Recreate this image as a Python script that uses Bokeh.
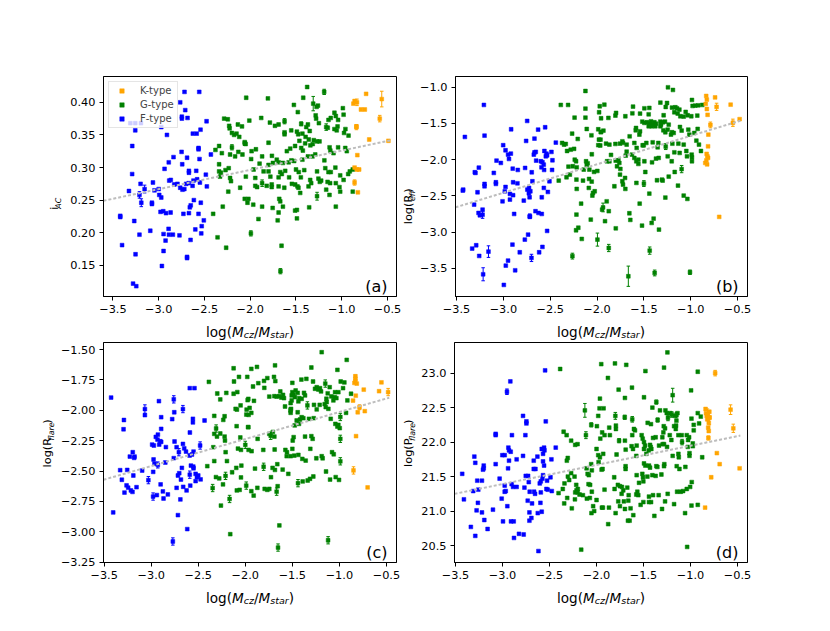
import math
from bokeh.plotting import figure
from bokeh.models import (Range1d, FixedTicker, Label, Legend, LegendItem,
                          ColumnDataSource, Whisker, TeeHead)
from bokeh.layouts import row, column
from bokeh.embed import file_html
from bokeh.resources import INLINE

# ---------------- data ----------------
X_TICKS = [-3.5, -3.0, -2.5, -2.0, -1.5, -1.0, -0.5]
X_TICK_LABELS = ["\u22123.5", "\u22123.0", "\u22122.5", "\u22122.0", "\u22121.5", "\u22121.0", "\u22120.5"]
A_Y_TICKS = [0.15, 0.20, 0.25, 0.30, 0.35, 0.40]
A_Y_TICK_LABELS = ["0.15", "0.20", "0.25", "0.30", "0.35", "0.40"]
B_Y_TICKS = [-3.5, -3.0, -2.5, -2.0, -1.5, -1.0]
B_Y_TICK_LABELS = ["\u22123.5", "\u22123.0", "\u22122.5", "\u22122.0", "\u22121.5", "\u22121.0"]
C_Y_TICKS = [-3.25, -3.0, -2.75, -2.5, -2.25, -2.0, -1.75, -1.5]
C_Y_TICK_LABELS = ["\u22123.25", "\u22123.00", "\u22122.75", "\u22122.50", "\u22122.25", "\u22122.00", "\u22121.75", "\u22121.50"]
D_Y_TICKS = [20.5, 21.0, 21.5, 22.0, 22.5, 23.0]
D_Y_TICK_LABELS = ["20.5", "21.0", "21.5", "22.0", "22.5", "23.0"]

TYPES = ["K-type", "G-type", "F-type"]
PANEL_TAGS = ["(a)", "(b)", "(c)", "(d)"]

# linear trends (slope, intercept)
TREND_A = (0.02955, 0.3555)
TREND_B = (0.3934, -1.277)
TREND_C = (0.2224, -1.792)
TREND_D = (0.278, 22.225)
TREND_X_END = -0.47

# ---- panel (a): i_AC ----
A_F = [(-2.718,0.416),(-2.557,0.416),(-2.765,0.400),(-2.710,0.388),(-2.747,0.378),(-2.747,0.375),
(-2.685,0.376),(-3.310,0.368),(-3.256,0.368),(-3.194,0.368),(-3.256,0.357),(-2.972,0.362),(-2.910,0.350),
(-2.477,0.371),(-2.627,0.352),(-2.585,0.352),(-2.543,0.358),(-3.289,0.333),(-2.565,0.330),(-2.565,0.328),
(-2.750,0.324),(-2.430,0.320),(-2.690,0.315),(-2.838,0.316),(-2.890,0.308),(-2.554,0.313),(-2.743,0.305),
(-2.936,0.298),(-2.670,0.295),(-2.670,0.292),(-2.590,0.295),(-2.485,0.289),(-3.290,0.290),(-2.580,0.282),
(-2.620,0.280),(-2.550,0.277),(-2.885,0.280),(-2.868,0.281),(-3.063,0.277),(-3.198,0.275),(-2.830,0.274),
(-2.795,0.275),(-2.765,0.269),(-2.700,0.275),(-2.672,0.276),(-2.720,0.267),(-2.740,0.266),(-2.630,0.272),
(-2.474,0.271),(-3.000,0.267),(-3.046,0.265),(-2.994,0.258),(-2.972,0.254),(-3.325,0.264),(-3.074,0.246),
(-3.074,0.244),(-2.616,0.250),(-2.650,0.242),(-2.660,0.239),(-2.540,0.246),(-3.420,0.226),(-3.420,0.224),
(-2.980,0.232),(-2.950,0.233),(-2.920,0.230),(-2.870,0.231),(-2.730,0.229),(-2.670,0.230),(-2.565,0.229),
(-2.507,0.219),(-3.267,0.218),(-2.530,0.210),(-2.892,0.206),(-3.092,0.203),(-3.210,0.197),(-2.947,0.198),
(-2.888,0.197),(-2.845,0.197),(-2.773,0.196),(-2.600,0.205),(-2.535,0.199),(-2.652,0.189),(-2.925,0.188),
(-3.400,0.181),(-2.947,0.172),(-3.253,0.167),(-2.690,0.163),(-2.690,0.161),(-2.965,0.149),(-3.280,0.122),
(-3.245,0.118)]
A_G = [(-2.044,0.407),(-2.010,0.372),(-2.285,0.375),(-2.245,0.374),(-2.230,0.364),(-2.225,0.360),
(-2.200,0.353),(-2.176,0.350),(-2.150,0.352),(-2.120,0.347),(-2.090,0.363),(-2.135,0.366),(-2.060,0.339),
(-2.050,0.336),(-2.340,0.333),(-2.380,0.327),(-2.310,0.322),(-2.220,0.320),(-2.165,0.317),(-2.130,0.324),
(-2.085,0.320),(-2.340,0.305),(-2.340,0.294),(-2.320,0.292),(-2.270,0.296),(-2.235,0.299),(-2.330,0.286),
(-2.220,0.284),(-2.210,0.279),(-2.240,0.263),(-2.110,0.269),(-2.060,0.252),(-2.030,0.246),(-2.048,0.286),
(-2.300,0.240),(-2.405,0.229),(-2.357,0.193),(-2.263,0.177),
(-1.378,0.4235),(-1.421,0.407),(-1.807,0.406),(-1.260,0.395),(-1.275,0.393),(-1.523,0.396),(-1.480,0.385),
(-1.285,0.380),(-1.280,0.375),(-1.880,0.376),(-1.785,0.369),(-1.730,0.364),(-1.690,0.366),(-1.370,0.366),
(-1.388,0.362),(-1.250,0.368),(-1.145,0.373),(-1.120,0.376),(-1.080,0.384),(-1.065,0.379),(-0.988,0.391),
(-0.980,0.381),(-1.153,0.361),(-1.040,0.373),(-1.046,0.363),(-1.625,0.354),(-1.625,0.351),(-1.552,0.357),
(-1.490,0.355),(-1.476,0.351),(-1.080,0.359),(-1.055,0.357),(-0.960,0.359),(-0.975,0.353),(-0.926,0.349),
(-1.430,0.352),(-1.395,0.347),(-1.350,0.356),(-1.360,0.343),(-1.305,0.342),(-1.270,0.340),(-1.243,0.340),
(-1.463,0.341),(-1.400,0.337),(-1.800,0.338),(-1.510,0.333),(-1.563,0.329),(-1.600,0.325),(-1.443,0.330),
(-1.425,0.326),(-1.343,0.334),(-1.317,0.336),(-1.133,0.331),(-1.125,0.326),(-1.040,0.331),(-0.962,0.330),
(-0.945,0.325),(-1.938,0.328),(-1.985,0.325),(-1.990,0.313),(-1.870,0.317),(-1.763,0.318),(-1.752,0.307),
(-1.690,0.308),(-1.710,0.312),(-1.643,0.307),(-1.580,0.308),(-1.550,0.311),(-1.520,0.310),(-1.430,0.312),
(-1.370,0.317),(-1.320,0.317),(-1.290,0.320),(-1.190,0.311),(-1.090,0.322),(-1.898,0.306),(-1.800,0.304),
(-1.963,0.297),(-1.854,0.294),(-1.800,0.294),(-1.672,0.293),(-1.618,0.295),(-1.500,0.297),(-1.470,0.293),
(-1.410,0.296),(-1.270,0.294),(-1.180,0.299),(-1.145,0.293),(-1.120,0.293),(-1.070,0.300),(-1.017,0.288),
(-0.930,0.290),(-0.912,0.294),(-0.880,0.297),(-1.945,0.284),(-1.780,0.286),(-1.690,0.285),(-1.655,0.290),
(-1.575,0.285),(-1.447,0.285),(-1.345,0.281),(-1.334,0.276),(-1.255,0.283),(-1.240,0.278),(-1.225,0.280),
(-1.155,0.278),(-1.127,0.276),(-1.065,0.276),(-0.980,0.281),(-1.945,0.272),(-1.925,0.270),(-1.820,0.272),
(-1.765,0.274),(-1.765,0.270),(-1.690,0.271),(-1.628,0.269),(-1.545,0.275),(-1.509,0.274),(-1.484,0.271),
(-1.473,0.269),(-1.454,0.261),(-1.363,0.271),(-1.170,0.266),(-1.025,0.270),(-1.017,0.263),(-1.134,0.258),
(-0.880,0.263),(-2.020,0.252),(-1.967,0.243),(-1.870,0.240),(-1.755,0.238),(-1.683,0.252),(-1.672,0.248),
(-1.643,0.240),(-1.690,0.231),(-1.356,0.239),(-1.065,0.240),(-1.510,0.234),(-1.490,0.235),(-1.490,0.222),
(-1.700,0.219),(-1.910,0.221),(-1.658,0.180)]
A_K = [(-0.734,0.413),(-0.790,0.389),(-0.748,0.389),(-0.840,0.363),(-0.700,0.343),(-0.490,0.341),
(-0.830,0.319),(-0.860,0.300),(-0.835,0.297),(-0.810,0.297),(-0.824,0.262),(-0.873,0.398),(-0.860,0.402)]
# error-bar points (x, y, err)
A_F_ERR = [(-3.154,0.267,0.006),(-3.210,0.258,0.005),(-3.190,0.246,0.006)]
A_G_ERR = [(-1.312,0.398,0.011),(-1.192,0.416,0.004),(-1.625,0.371,0.004),(-1.170,0.362,0.005),
(-1.870,0.276,0.005),(-1.270,0.256,0.006),(-1.993,0.199,0.004),(-1.670,0.141,0.004),(-2.200,0.331,0.004),
(-2.060,0.337,0.003),(-1.443,0.367,0.003)]
A_K_ERR = [(-0.834,0.400,0.005),(-0.563,0.405,0.012),(-0.585,0.375,0.005),(-0.860,0.277,0.004),(-0.840,0.362,0.004)]

# ---- panel (b): log(R_eff) ----
B_F = [(-3.208,-1.244),(-3.411,-1.686),(-3.201,-1.668),(-2.917,-1.580),(-2.746,-1.465),(-2.554,-1.552),
(-2.629,-1.585),(-2.668,-1.709),(-2.757,-1.741),(-3.002,-1.800),(-2.977,-1.870),(-2.950,-1.930),(-2.940,-1.990),
(-2.920,-1.916),(-3.073,-2.013),(-3.027,-2.045),(-2.668,-1.900),(-2.654,-1.892),(-2.675,-1.930),(-2.562,-1.880),
(-2.540,-1.917),(-2.547,-1.953),(-2.533,-1.940),(-2.487,-1.893),(-2.650,-2.013),(-2.600,-2.022),(-2.583,-2.035),
(-2.569,-2.068),(-2.593,-2.105),(-2.565,-2.142),(-2.480,-2.142),(-2.476,-2.008),(-2.440,-1.764),(-2.900,-2.124),
(-2.846,-2.142),(-2.768,-2.114),(-2.697,-2.174),(-3.102,-2.183),(-3.262,-2.110),(-3.305,-2.174),(-3.298,-2.183),
(-3.080,-2.312),(-3.080,-2.335),(-3.201,-2.335),(-3.201,-2.367),(-2.896,-2.312),(-2.850,-2.326),(-2.977,-2.377),
(-2.690,-2.298),(-2.508,-2.298),(-2.568,-2.390),(-2.525,-2.446),(-2.744,-2.413),(-2.726,-2.390),(-2.712,-2.436),
(-2.728,-2.464),(-2.720,-2.519),(-2.782,-2.565),(-2.590,-2.519),(-2.985,-2.437),(-2.930,-2.473),(-2.896,-2.491),
(-2.930,-2.551),(-3.009,-2.575),(-3.429,-2.413),(-3.433,-2.427),(-3.276,-2.450),(-3.312,-2.621),(-3.265,-2.736),
(-3.251,-2.768),(-3.222,-2.690),(-2.885,-2.750),(-2.718,-2.790),(-2.657,-2.712),(-2.625,-2.736),(-2.590,-2.750),
(-2.533,-2.984),(-2.736,-3.035),(-2.771,-3.104),(-2.903,-3.173),(-2.825,-3.279),(-2.583,-3.205),(-2.618,-3.279),
(-3.333,-3.228),(-3.290,-3.182),(-3.258,-3.330),(-2.950,-3.394),(-2.974,-3.463),(-2.874,-3.528),(-2.995,-3.730)]
B_G = [(-2.124,-1.051),(-2.387,-1.244),(-2.309,-1.244),(-2.240,-1.419),(-2.124,-1.295),(-2.124,-1.419),
(-1.971,-1.262),(-1.978,-1.345),(-2.266,-1.640),(-2.206,-1.714),(-2.110,-1.576),(-2.060,-1.663),(-1.987,-1.580),
(-1.960,-1.620),(-1.980,-1.723),(-1.963,-1.723),(-1.987,-1.800),(-1.966,-1.804),(-2.373,-1.769),(-2.352,-1.792),
(-2.334,-1.783),(-2.320,-1.880),(-2.281,-1.862),(-2.245,-1.850),(-2.238,-2.000),(-2.224,-2.022),(-2.117,-2.022),
(-2.100,-2.050),(-2.110,-2.073),(-2.056,-1.925),(-2.305,-2.096),(-2.259,-2.091),(-2.217,-2.105),(-2.142,-2.137),
(-2.082,-2.137),(-2.032,-2.169),(-1.997,-2.156),(-2.290,-2.206),(-2.326,-2.243),(-2.409,-2.289),(-2.220,-2.275),
(-2.150,-2.289),(-2.085,-2.266),(-2.057,-2.303),(-2.088,-2.390),(-2.217,-2.404),(-2.043,-2.459),(-2.025,-2.436),
(-2.050,-2.496),(-2.170,-2.607),(-1.946,-2.690),(-2.220,-2.758),(-2.067,-2.828),(-2.200,-2.940),(-2.224,-2.975),
(-2.163,-3.095),
(-1.243,-1.000),(-1.190,-1.037),(-1.922,-1.240),(-1.616,-1.267),(-1.495,-1.290),(-1.442,-1.285),(-1.324,-1.212),
(-1.253,-1.217),(-1.267,-1.272),(-1.200,-1.280),(-1.164,-1.276),(-1.146,-1.290),(-1.121,-1.308),(-1.175,-1.345),
(-1.139,-1.363),(-1.111,-1.400),(-1.054,-1.340),(-1.033,-1.386),(-1.075,-1.405),(-0.987,-1.175),(-0.980,-1.258),
(-0.952,-1.253),(-0.920,-1.249),(-0.877,-1.244),(-0.994,-1.400),(-0.930,-1.391),(-1.957,-1.428),(-1.879,-1.423),
(-1.804,-1.391),(-1.797,-1.354),(-1.698,-1.400),(-1.623,-1.359),(-1.541,-1.363),(-1.449,-1.373),(-1.289,-1.386),
(-1.517,-1.474),(-1.495,-1.492),(-1.467,-1.483),(-1.442,-1.502),(-1.424,-1.470),(-1.406,-1.520),(-1.388,-1.483),
(-1.371,-1.502),(-1.449,-1.538),(-1.417,-1.538),(-1.378,-1.538),(-1.324,-1.474),(-1.317,-1.515),(-1.296,-1.483),
(-1.275,-1.474),(-1.324,-1.538),(-1.292,-1.594),(-1.271,-1.621),(-1.246,-1.585),(-1.235,-1.516),(-1.200,-1.621),
(-1.211,-1.654),(-1.182,-1.631),(-1.584,-1.562),(-1.587,-1.594),(-1.541,-1.608),(-1.548,-1.654),(-1.115,-1.548),
(-1.097,-1.598),(-1.026,-1.585),(-1.015,-1.654),(-0.962,-1.631),(-0.926,-1.575),(-1.957,-1.617),(-1.932,-1.599),
(-1.904,-1.778),(-1.868,-1.792),(-1.804,-1.783),(-1.755,-1.778),(-1.730,-1.746),(-1.723,-1.769),(-1.684,-1.792),
(-1.652,-1.677),(-1.602,-1.769),(-1.577,-1.838),(-1.513,-1.801),(-1.502,-1.801),(-1.474,-1.769),(-1.406,-1.760),
(-1.353,-1.829),(-1.346,-1.769),(-1.196,-1.779),(-1.175,-1.898),(-1.132,-1.779),(-1.075,-1.792),(-1.047,-1.880),
(-0.990,-1.930),(-0.987,-1.967),(-0.987,-2.022),(-0.940,-1.737),(-0.912,-1.792),(-0.891,-1.880),(-1.893,-2.022),
(-1.868,-2.022),(-1.801,-2.013),(-1.772,-2.008),(-1.762,-2.045),(-1.787,-2.091),(-1.751,-2.128),(-1.851,-1.934),
(-1.694,-1.944),(-1.684,-1.889),(-1.627,-1.930),(-1.602,-1.976),(-1.581,-2.022),(-1.559,-1.999),(-1.559,-2.059),
(-1.495,-2.022),(-1.485,-2.170),(-1.413,-2.036),(-1.371,-1.985),(-1.342,-1.976),(-1.246,-1.953),(-1.203,-2.022),
(-1.171,-2.170),(-1.118,-1.907),(-1.040,-1.953),(-1.755,-2.206),(-1.701,-2.252),(-1.698,-2.404),(-1.730,-2.298),
(-1.723,-2.344),(-1.815,-2.367),(-1.580,-2.321),(-1.442,-2.469),(-1.360,-2.284),(-1.307,-2.275),(-1.300,-2.289),
(-1.235,-2.234),(-1.136,-2.358),(-1.271,-2.523),(-1.545,-2.607),(-1.075,-2.496),(-1.036,-2.542),(-1.897,-2.575),
(-1.875,-2.712),(-1.915,-2.850),(-1.655,-2.740),(-1.645,-2.832),(-1.800,-2.948),(-1.520,-2.911),(-1.417,-2.874),
(-1.396,-2.814),(-1.339,-2.966)]
B_K = [(-0.835,-1.120),(-0.828,-1.170),(-0.740,-1.140),(-0.574,-1.240),(-0.840,-1.230),(-0.828,-1.300),
(-0.820,-1.380),(-0.812,-1.654),(-0.478,-1.440),(-0.815,-1.815),(-0.830,-1.920),(-0.822,-1.955),(-0.815,-1.975),
(-0.833,-2.010),(-0.845,-2.045),(-0.825,-2.065),(-0.696,-2.790)]
B_F_ERR = [(-3.222,-2.760,0.05),(-3.159,-3.270,0.08),(-2.700,-3.357,0.05),(-3.216,-3.583,0.09),(-2.718,-2.780,0.03)]
B_G_ERR = [(-1.996,-3.104,0.09),(-2.263,-3.332,0.04),(-1.666,-3.610,0.14),(-1.438,-3.256,0.05),
(-1.875,-3.220,0.05),(-1.936,-2.660,0.06),(-1.097,-2.130,0.05),(-1.500,-2.330,0.04),(-1.267,-1.820,0.04),
(-1.385,-3.565,0.04),(-1.008,-3.555,0.03)]
B_K_ERR = [(-0.724,-1.270,0.05),(-0.790,-1.520,0.04),(-0.550,-1.490,0.05)]

# ---- panel (c): log(R_flare) ----
C_F = [(-3.426,-1.895),(-3.067,-2.040),(-2.918,-1.925),(-2.755,-2.016),(-2.590,-1.818),(-2.540,-1.818),
(-2.894,-2.057),(-2.777,-2.073),(-2.557,-2.070),(-2.557,-2.100),(-2.433,-2.084),(-3.290,-2.080),(-3.294,-2.156),
(-2.894,-2.153),(-2.589,-2.183),(-2.929,-2.200),(-2.951,-2.219),(-2.933,-2.241),(-2.904,-2.255),(-2.915,-2.282),
(-2.894,-2.260),(-2.990,-2.282),(-2.972,-2.290),(-2.844,-2.303),(-2.752,-2.257),(-2.730,-2.304),(-2.663,-2.277),
(-2.649,-2.313),(-2.630,-2.340),(-2.592,-2.372),(-2.567,-2.364),(-2.550,-2.340),(-3.196,-2.345),(-3.227,-2.381),
(-3.177,-2.381),(-3.181,-2.392),(-2.760,-2.394),(-2.975,-2.405),(-2.965,-2.440),(-2.850,-2.430),(-3.096,-2.496),
(-2.979,-2.507),(-3.330,-2.493),(-3.255,-2.491),(-3.190,-2.537),(-3.312,-2.572),(-3.262,-2.618),(-3.245,-2.637),
(-3.284,-2.677),(-3.216,-2.660),(-3.199,-2.672),(-3.156,-2.633),(-2.900,-2.610),(-2.940,-2.698),(-2.876,-2.668),
(-2.869,-2.726),(-2.823,-2.693),(-2.674,-2.474),(-2.702,-2.518),(-2.716,-2.537),(-2.730,-2.638),(-2.684,-2.570),
(-2.660,-2.630),(-2.624,-2.660),(-2.585,-2.620),(-2.578,-2.455),(-2.553,-2.463),(-2.550,-2.477),(-2.528,-2.523),
(-2.514,-2.551),(-2.500,-2.537),(-2.528,-2.583),(-2.475,-2.569),(-2.690,-2.734),(-2.716,-2.863),(-2.617,-2.978),
(-3.404,-2.841)]
C_G = [(-2.124,-1.654),(-2.067,-1.725),(-1.979,-1.725),(-2.387,-1.766),(-2.120,-1.763),(-2.298,-1.862),
(-2.202,-1.857),(-2.266,-1.911),(-2.124,-1.864),(-2.085,-1.850),(-1.975,-1.917),(-2.050,-1.960),(-2.103,-1.988),
(-2.089,-1.994),(-1.986,-1.994),(-1.954,-1.980),(-1.989,-2.035),(-1.965,-2.038),(-2.330,-2.046),(-2.234,-2.079),
(-2.220,-2.049),(-2.092,-2.131),(-1.970,-2.139),(-2.330,-2.194),(-2.301,-2.216),(-2.266,-2.191),(-2.220,-2.216),
(-2.216,-2.249),(-2.053,-2.224),(-2.340,-2.304),(-2.078,-2.315),(-2.046,-2.326),(-1.965,-2.326),(-2.209,-2.345),
(-2.330,-2.418),(-2.195,-2.418),(-2.404,-2.460),(-2.096,-2.474),(-2.042,-2.455),(-2.140,-2.510),(-2.312,-2.550),
(-2.277,-2.561),(-2.046,-2.553),(-2.237,-2.610),(-2.090,-2.660),(-2.060,-2.655),(-2.259,-2.784),(-2.160,-3.020),
(-1.188,-1.522),(-0.922,-1.585),(-1.298,-1.648),(-1.021,-1.667),(-1.684,-1.630),(-1.876,-1.643),(-1.936,-1.659),
(-1.766,-1.735),(-1.695,-1.725),(-1.801,-1.758),(-1.862,-1.777),(-1.918,-1.804),(-1.798,-1.815),(-1.681,-1.760),
(-1.404,-1.747),(-1.351,-1.741),(-1.500,-1.774),(-1.280,-1.763),(-1.241,-1.810),(-1.259,-1.823),(-1.223,-1.829),
(-1.206,-1.818),(-1.195,-1.845),(-1.103,-1.810),(-1.124,-1.860),(-0.986,-1.763),(-0.947,-1.771),(-0.961,-1.818),
(-1.628,-1.845),(-1.642,-1.884),(-1.617,-1.895),(-1.589,-1.900),(-1.599,-1.873),(-1.500,-1.851),(-1.507,-1.878),
(-1.486,-1.873),(-1.465,-1.837),(-1.443,-1.856),(-1.472,-1.892),(-1.426,-1.900),(-1.436,-1.927),(-1.401,-1.906),
(-1.365,-1.878),(-1.376,-1.856),(-1.507,-1.919),(-1.518,-1.941),(-1.270,-1.955),(-1.241,-1.993),(-1.209,-1.955),
(-1.156,-1.949),(-1.145,-1.974),(-1.135,-1.933),(-1.117,-1.988),(-1.138,-1.905),(-1.064,-1.919),(-1.050,-1.892),
(-1.032,-1.900),(-1.085,-1.886),(-1.011,-1.851),(-1.046,-1.851),(-0.915,-1.919),(-0.876,-1.864),(-1.745,-1.887),
(-1.691,-1.884),(-1.667,-1.887),(-1.908,-1.922),(-1.968,-1.906),(-1.936,-2.021),(-1.578,-1.969),(-1.518,-2.021),
(-1.514,-1.988),(-1.443,-2.016),(-1.454,-2.084),(-1.419,-2.076),(-1.383,-2.065),(-1.401,-2.057),(-1.429,-2.112),
(-1.475,-2.125),(-1.323,-2.070),(-1.273,-2.065),(-1.092,-2.070),(-1.043,-2.112),(-1.011,-2.120),(-1.021,-2.134),
(-0.996,-2.147),(-0.929,-2.021),(-1.968,-2.139),(-1.869,-2.235),(-1.745,-2.194),(-1.707,-2.178),(-1.691,-2.216),
(-1.486,-2.221),(-1.496,-2.249),(-1.365,-2.216),(-1.298,-2.213),(-1.284,-2.235),(-1.933,-2.337),(-1.809,-2.326),
(-1.688,-2.323),(-1.574,-2.326),(-1.557,-2.345),(-1.500,-2.317),(-1.309,-2.317),(-1.560,-2.378),(-1.518,-2.378),
(-1.479,-2.373),(-1.436,-2.367),(-1.394,-2.400),(-1.358,-2.414),(-1.245,-2.395),(-1.188,-2.378),(-1.178,-2.395),
(-1.078,-2.345),(-1.060,-2.362),(-1.897,-2.480),(-1.710,-2.474),(-1.685,-2.491),(-1.660,-2.444),(-1.603,-2.488),
(-1.543,-2.523),(-1.142,-2.504),(-1.727,-2.551),(-1.312,-2.564),(-1.277,-2.545),(-1.337,-2.578),(-1.099,-2.570),
(-1.039,-2.550),(-1.004,-2.573),(-1.390,-2.586),(-1.872,-2.638),(-1.936,-2.666),(-1.911,-2.702),(-1.794,-2.647),
(-1.766,-2.655),(-1.745,-2.647),(-1.656,-2.625),(-1.638,-2.948)]
C_K = [(-0.830,-1.720),(-0.830,-1.760),(-0.840,-1.775),(-0.815,-1.780),(-0.553,-1.770),(-0.741,-1.830),
(-0.578,-1.843),(-0.826,-1.880),(-0.855,-1.920),(-0.805,-2.016),(-0.730,-2.007),(-0.823,-2.213),(-0.700,-2.635)]
C_F_ERR = [(-3.067,-1.990,0.035),(-2.760,-1.910,0.03),(-2.663,-1.990,0.03),(-2.706,-2.345,0.03),
(-2.480,-2.290,0.03),(-2.930,-2.450,0.025),(-3.030,-2.575,0.03),(-2.980,-2.710,0.03),(-2.590,-2.530,0.03),
(-2.770,-3.080,0.03)]
C_G_ERR = [(-2.310,-2.150,0.03),(-2.000,-2.285,0.03),(-2.210,-2.540,0.03),(-2.347,-2.640,0.03),
(-2.167,-2.730,0.03),(-1.990,-2.620,0.03),(-1.150,-1.780,0.03),(-1.340,-1.960,0.03),(-0.990,-2.055,0.03),
(-1.730,-2.210,0.03),(-0.990,-2.235,0.03),(-0.990,-2.420,0.03),(-1.805,-2.465,0.03),(-1.440,-2.600,0.03),
(-1.667,-2.670,0.03),(-1.652,-3.130,0.03),(-1.120,-3.070,0.03),(-1.520,-2.000,0.02)]
C_K_ERR = [(-0.850,-2.495,0.03),(-0.830,-1.740,0.03),(-0.482,-1.850,0.03),(-0.786,-1.975,0.02)]

# ---- panel (d): log(P_flare) ----
D_F = [(-2.547,23.04),(-2.917,22.88),(-2.782,22.38),(-2.746,22.30),(-2.746,22.27),(-2.540,22.30),
(-3.073,22.12),(-3.073,22.10),(-2.900,22.10),(-2.757,22.10),(-3.300,21.79),(-3.290,21.70),(-3.200,21.66),
(-3.200,21.62),(-3.208,21.60),(-3.073,21.68),(-3.002,21.81),(-2.977,21.81),(-2.938,21.92),(-2.931,21.88),
(-2.913,21.86),(-2.931,21.73),(-2.941,21.62),(-2.850,21.75),(-2.782,21.80),(-2.668,21.73),(-2.629,21.79),
(-2.583,21.90),(-2.558,21.92),(-2.554,21.88),(-2.569,21.83),(-2.569,21.72),(-2.558,21.66),(-2.434,21.92),
(-2.480,21.75),(-2.668,21.61),(-2.650,21.61),(-3.429,21.54),(-3.031,21.47),(-2.753,21.51),(-2.728,21.51),
(-2.569,21.52),(-2.490,21.49),(-3.269,21.44),(-3.219,21.44),(-2.977,21.37),(-2.903,21.39),(-2.888,21.35),
(-2.850,21.35),(-2.767,21.34),(-2.721,21.42),(-2.604,21.40),(-2.576,21.47),(-2.593,21.43),(-2.526,21.44),
(-2.533,21.32),(-2.519,21.31),(-2.476,21.29),(-3.258,21.31),(-3.312,21.29),(-2.977,21.28),(-2.966,21.29),
(-2.711,21.28),(-2.664,21.28),(-2.654,21.25),(-2.593,21.27),(-3.411,21.17),(-3.009,21.18),(-3.262,21.12),
(-2.949,21.07),(-2.732,21.15),(-2.686,21.11),(-2.597,21.12),(-3.276,21.01),(-3.219,20.98),(-3.102,21.02),
(-2.714,20.98),(-2.625,20.97),(-2.583,20.99),(-3.194,20.87),(-2.995,20.85),(-2.910,20.85),(-2.881,20.85),
(-2.714,20.86),(-2.693,20.90),(-3.337,20.77),(-3.159,20.74),(-3.290,20.64),(-2.825,20.67),(-2.775,20.66),
(-2.878,20.61),(-2.618,20.42)]
D_G = [(-2.387,23.06),(-1.950,23.13),(-1.964,22.63),(-1.968,22.49),(-1.982,22.38),(-1.996,22.23),
(-1.960,22.05),(-2.350,22.15),(-2.318,22.10),(-2.270,22.02),(-2.227,21.96),(-2.202,21.97),(-2.000,21.90),
(-1.982,21.81),(-1.964,21.78),(-2.306,21.77),(-2.316,21.73),(-1.946,21.60),(-1.978,21.71),(-2.057,21.68),
(-2.106,21.62),(-2.095,21.54),(-2.082,21.52),(-2.050,21.59),(-2.305,21.50),(-2.291,21.45),(-2.270,21.55),
(-2.234,21.50),(-2.341,21.40),(-2.359,21.32),(-2.216,21.38),(-2.199,21.32),(-2.213,21.30),(-2.202,21.27),
(-2.227,21.27),(-2.181,21.24),(-2.085,21.39),(-2.068,21.38),(-2.145,21.23),(-2.103,21.18),(-2.071,21.19),
(-2.050,21.28),(-2.312,21.19),(-2.404,21.26),(-2.230,21.17),(-2.344,21.11),(-2.263,21.04),(-2.000,21.16),
(-2.036,21.07),(-2.025,21.00),(-2.054,20.97),(-1.943,21.05),(-2.163,20.44),
(-1.246,23.30),(-1.804,23.14),(-1.684,23.12),(-1.480,23.03),(-1.282,23.08),(-0.923,23.02),(-1.879,22.93),
(-1.765,22.76),(-1.623,22.79),(-1.698,22.64),(-1.495,22.65),(-0.994,22.75),(-1.925,22.49),(-1.406,22.50),
(-1.325,22.46),(-1.267,22.46),(-1.253,22.42),(-1.218,22.42),(-1.168,22.38),(-1.139,22.42),(-1.150,22.31),
(-1.154,22.24),(-0.990,22.34),(-0.891,22.37),(-0.923,22.42),(-0.909,22.27),(-1.456,22.28),(-1.421,22.26),
(-1.794,22.24),(-1.794,22.19),(-1.865,22.21),(-1.602,22.19),(-1.591,22.17),(-1.285,22.23),(-1.271,22.20),
(-1.175,22.23),(-1.157,22.19),(-0.966,22.25),(-0.966,22.17),(-1.940,22.14),(-1.915,22.10),(-1.858,22.10),
(-1.620,22.10),(-1.520,22.10),(-1.509,22.05),(-1.399,22.06),(-1.371,22.07),(-1.300,22.07),(-1.289,22.14),
(-1.221,22.10),(-1.204,22.03),(-1.129,22.10),(-1.094,22.10),(-1.040,22.10),(-1.015,22.07),(-1.026,22.03),
(-0.976,21.98),(-0.976,21.94),(-1.698,22.02),(-1.690,21.89),(-1.627,21.94),(-1.612,21.90),(-1.573,21.95),
(-1.495,22.00),(-1.484,21.95),(-1.495,21.90),(-1.470,21.83),(-1.431,21.96),(-1.424,21.93),(-1.445,21.88),
(-1.417,21.90),(-1.335,21.95),(-1.296,21.97),(-1.282,21.97),(-1.250,21.93),(-1.190,21.80),(-1.129,21.83),
(-1.125,21.78),(-1.011,21.84),(-1.011,21.80),(-1.029,21.93),(-0.876,21.78),(-1.929,21.83),(-1.787,21.82),
(-1.577,21.80),(-1.936,21.61),(-1.691,21.65),(-1.691,21.61),(-1.495,21.69),(-1.481,21.66),(-1.442,21.66),
(-1.431,21.63),(-1.364,21.65),(-1.353,21.64),(-1.279,21.68),(-1.282,21.65),(-1.147,21.65),(-1.118,21.61),
(-1.055,21.64),(-1.573,21.52),(-1.513,21.54),(-1.506,21.49),(-1.459,21.50),(-1.406,21.52),(-1.371,21.51),
(-1.310,21.53),(-1.812,21.49),(-1.773,21.38),(-1.751,21.36),(-1.716,21.30),(-1.730,21.35),(-1.673,21.34),
(-1.733,21.25),(-1.808,21.32),(-1.915,21.31),(-1.548,21.41),(-1.502,21.43),(-1.566,21.28),(-1.577,21.24),
(-1.556,21.23),(-1.658,21.23),(-1.442,21.21),(-1.399,21.23),(-1.339,21.23),(-1.243,21.25),(-1.143,21.28),
(-1.104,21.28),(-1.079,21.29),(-1.040,21.32),(-1.004,21.35),(-0.987,21.42),(-1.662,21.15),(-1.769,21.14),
(-1.709,21.14),(-1.502,21.13),(-1.531,21.09),(-1.442,21.13),(-1.420,21.13),(-1.271,21.14),(-1.175,21.10),
(-1.932,21.05),(-1.868,21.05),(-1.751,21.07),(-1.698,21.03),(-1.638,21.04),(-1.303,21.03),(-0.990,21.08),
(-0.923,21.09),(-1.797,20.97),(-1.609,20.94),(-1.385,20.93),(-1.666,20.86),(-1.648,20.86),(-1.058,20.97),
(-1.876,20.81),(-1.036,20.48)]
D_K = [(-0.840,22.48),(-0.835,22.42),(-0.828,22.38),(-0.822,22.33),(-0.812,22.36),(-0.800,22.44),
(-0.798,22.36),(-0.806,22.28),(-0.812,22.21),(-0.806,22.16),(-0.720,21.84),(-0.690,21.68),(-0.478,21.62),
(-0.780,21.49),(-0.845,21.05)]
D_F_ERR = [(-2.953,22.73,0.04)]
D_G_ERR = [(-2.124,22.46,0.10),(-2.056,22.25,0.03),(-2.113,22.10,0.05),(-1.190,22.68,0.10),
(-1.800,22.38,0.05),(-1.620,22.33,0.04),(-1.700,22.36,0.03),(-1.364,22.58,0.03),(-1.150,22.39,0.04),
(-1.240,22.35,0.04),(-1.090,22.00,0.04),(-1.760,22.02,0.03),(-1.350,22.32,0.03),(-1.200,22.40,0.04)]
D_K_ERR = [(-0.738,23.00,0.04),(-0.574,22.47,0.07),(-0.545,22.20,0.06),(-0.820,22.40,0.08),
(-0.800,22.35,0.10),(-0.810,22.06,0.03)]

# ---------------- style ----------------
COLORS = {"K-type": "#ffa500", "G-type": "#008000", "F-type": "#0000ff"}
FONT = "DejaVu Sans"
TICK_PX = 11.3
YLAB_PX = 11.3
XLAB_PX = 13.6
FRAME_W, FRAME_H = 293, 220
MID_K = 0.346   # distance (em) from text-box middle to the alphabetic baseline

# DejaVu Sans advance widths (em), used to lay out sub-scripted labels
WID = {'l': .278, 'o': .612, 'g': .635, '(': .390, ')': .390, 'R': .695, 'P': .603, 'M': .863,
       'c': .550, 'z': .525, '/': .337, 's': .521, 't': .392, 'a': .613, 'r': .411, 'i': .278,
       'A': .684, 'C': .698, 'e': .615, 'f': .352}

XLAB_PIECES = [("log(", False, False), ("M", True, False), ("cz", True, True),
               ("/", False, False), ("M", True, False), ("star", True, True), (")", False, False)]
A_YLAB = [("i", False, False), ("AC", True, True)]
B_YLAB = [("log(R", False, False), ("eff", True, True), (")", False, False)]
C_YLAB = [("log(R", False, False), ("flare", True, True), (")", False, False)]
D_YLAB = [("log(P", False, False), ("flare", True, True), (")", False, False)]


def text_w(s, px):
    return sum(WID.get(ch, 0.6) for ch in s) * px


def helper(w, h):
    p = figure(width=w, height=h, x_range=Range1d(0, w), y_range=Range1d(0, h),
               output_backend="svg", toolbar_location=None, tools="",
               x_axis_location=None, y_axis_location=None, min_border=0)
    p.outline_line_color = None
    p.grid.visible = False
    p.background_fill_color = "white"
    p.border_fill_color = "white"
    return p


def math_label(p, pieces, cx, cy, rotated, px):
    """Lay out text pieces (with subscripts); cx/cy = centre along text and baseline."""
    total = sum(text_w(t, px * (0.7 if sub else 1.0)) for t, it, sub in pieces)
    cum = 0.0
    for t, it, sub in pieces:
        size = px * (0.7 if sub else 1.0)
        w = text_w(t, size)
        drop = 0.22 * px if sub else 0.0
        mid = cum + w / 2 - total / 2
        if rotated:
            # box centre of each piece; 'up' of the rotated text points to -x
            x, y = cx + drop - MID_K * size, cy + mid
            align, base, ang = "center", "middle", math.pi / 2
        else:
            x, y = cx + mid, cy - drop
            align, base, ang = "center", "alphabetic", 0.0
        p.add_layout(Label(x=x, y=y, x_units="data", y_units="data", text=t,
                           text_font=FONT, text_font_size=f"{size:.2f}px",
                           text_font_style="italic" if it else "normal",
                           text_color="black", text_align=align,
                           text_baseline=base, angle=ang))
        cum += w


def make_panel(xr, yr, yticks, ylabels, borders, trend, series, errs, tag):
    left, right, top, bottom = borders
    p = figure(width=left + FRAME_W + right, height=top + FRAME_H + bottom,
               x_range=Range1d(*xr), y_range=Range1d(*yr),
               output_backend="svg", toolbar_location=None, tools="",
               min_border_left=left, min_border_right=right,
               min_border_top=top, min_border_bottom=bottom)
    p.xgrid.visible = False
    p.ygrid.visible = False
    p.outline_line_color = "black"
    p.outline_line_width = 1
    p.background_fill_color = "white"
    p.border_fill_color = "white"
    for ax, ticks, labels in ((p.xaxis[0], X_TICKS, X_TICK_LABELS),
                              (p.yaxis[0], yticks, ylabels)):
        ax.ticker = FixedTicker(ticks=ticks)
        ax.major_label_overrides = {t: l for t, l in zip(ticks, labels)}
        ax.major_tick_in = 0
        ax.major_tick_out = 4
        ax.minor_tick_line_color = None
        ax.axis_line_color = "black"
        ax.major_tick_line_color = "black"
        ax.major_label_text_font = FONT
        ax.major_label_text_font_size = f"{TICK_PX}px"
        ax.major_label_text_color = "black"
        ax.major_label_standoff = 4

    renderers = {}
    for name in ("F-type", "G-type", "K-type"):
        pts = series[name]
        r = p.scatter([a for a, b in pts], [b for a, b in pts], marker="square",
                      size=3.8, fill_color=COLORS[name], line_color=COLORS[name],
                      line_width=0.5)
        renderers[name] = r
        e = errs[name]
        if e:
            src = ColumnDataSource(dict(x=[a for a, b, c in e], y=[b for a, b, c in e],
                                        lo=[b - c for a, b, c in e],
                                        hi=[b + c for a, b, c in e]))
            p.add_layout(Whisker(source=src, base="x", upper="hi", lower="lo",
                                 dimension="height", line_color=COLORS[name], line_width=1,
                                 upper_head=TeeHead(size=3.5, line_color=COLORS[name], line_width=1),
                                 lower_head=TeeHead(size=3.5, line_color=COLORS[name], line_width=1)))
            p.scatter("x", "y", source=src, marker="square", size=3.8,
                      fill_color=COLORS[name], line_color=COLORS[name], line_width=0.5)

    slope, icpt = trend
    tx = [xr[0], TREND_X_END]
    p.line(tx, [icpt + slope * v for v in tx], line_color="#bdbdbd",
           line_width=2, line_dash="3 2")

    xs = xr[0] + (FRAME_W - 9) * (xr[1] - xr[0]) / FRAME_W
    ys = yr[0] + 10.5 * (yr[1] - yr[0]) / FRAME_H
    p.add_layout(Label(x=xs, y=ys, text=tag, text_font=FONT, text_font_size="16px",
                       text_color="black", text_align="right", text_baseline="alphabetic"))
    return p, renderers


# ---- row 1 ----
pa, ra = make_panel((-3.603, -0.402), (0.1022, 0.4396), A_Y_TICKS, A_Y_TICK_LABELS,
                    (39, 5, 76, 24), TREND_A,
                    {"F-type": A_F, "G-type": A_G, "K-type": A_K},
                    {"F-type": A_F_ERR, "G-type": A_G_ERR, "K-type": A_K_ERR}, PANEL_TAGS[0])
pb, rb = make_panel((-3.511, -0.394), (-3.890, -0.851), B_Y_TICKS, B_Y_TICK_LABELS,
                    (37, 10, 76, 24), TREND_B,
                    {"F-type": B_F, "G-type": B_G, "K-type": B_K},
                    {"F-type": B_F_ERR, "G-type": B_G_ERR, "K-type": B_K_ERR}, PANEL_TAGS[1])
# ---- row 2 ----
pc, rc = make_panel((-3.507, -0.393), (-3.253, -1.442), C_Y_TICKS, C_Y_TICK_LABELS,
                    (47, 5, 2, 24), TREND_C,
                    {"F-type": C_F, "G-type": C_G, "K-type": C_K},
                    {"F-type": C_F_ERR, "G-type": C_G_ERR, "K-type": C_K_ERR}, PANEL_TAGS[2])
pd_, rd = make_panel((-3.511, -0.394), (20.254, 23.444), D_Y_TICKS, D_Y_TICK_LABELS,
                     (37, 10, 2, 24), TREND_D,
                     {"F-type": D_F, "G-type": D_G, "K-type": D_K},
                     {"F-type": D_F_ERR, "G-type": D_G_ERR, "K-type": D_K_ERR}, PANEL_TAGS[3])

legend = Legend(items=[LegendItem(label=t, renderers=[ra[t]]) for t in TYPES],
                location="top_left", margin=5, padding=3, spacing=3,
                glyph_width=19, glyph_height=11, label_height=11, label_standoff=9,
                label_text_font=FONT, label_text_font_size="10px",
                border_line_color="#cccccc", border_line_width=1,
                background_fill_color="white", background_fill_alpha=0.8)
pa.add_layout(legend)

# y-label strips (frame centre is 134 px above each strip's bottom)
ya = helper(64, 320)
math_label(ya, A_YLAB, 58, 134, True, YLAB_PX)
yb = helper(16, 320)
math_label(yb, B_YLAB, 11, 134, True, YLAB_PX)
yc = helper(56, 246)
math_label(yc, C_YLAB, 51, 134, True, YLAB_PX)
yd = helper(16, 246)
math_label(yd, D_YLAB, 11, 134, True, YLAB_PX)

# x-label strips
xa = helper(401, 20)
math_label(xa, XLAB_PIECES, 249.5, 9, False, XLAB_PX)
xb = helper(356, 20)
math_label(xb, XLAB_PIECES, 199.5, 9, False, XLAB_PX)
xc = helper(401, 20)
math_label(xc, XLAB_PIECES, 249.5, 9, False, XLAB_PX)
xd = helper(356, 20)
math_label(xd, XLAB_PIECES, 199.5, 9, False, XLAB_PX)

layout = column(row(ya, pa, yb, pb), row(xa, xb),
                row(yc, pc, yd, pd_), row(xc, xd))
open("out.html", "w").write(file_html(layout, INLINE))
